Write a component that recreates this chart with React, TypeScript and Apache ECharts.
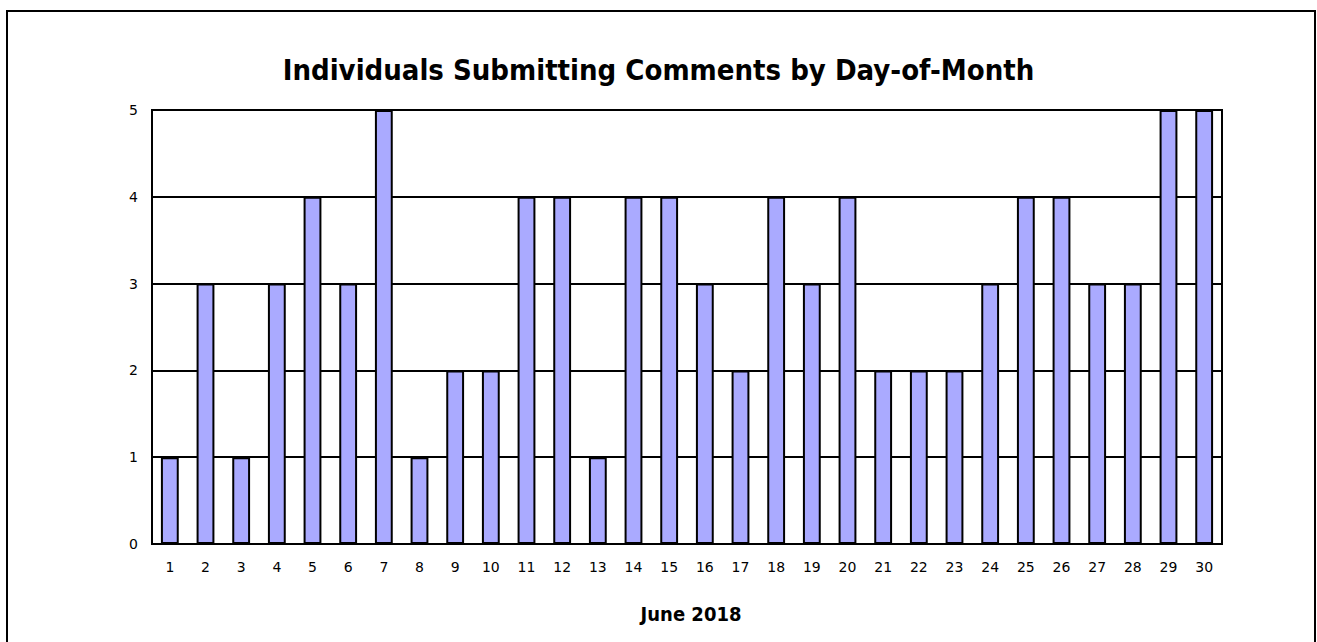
import React, { useEffect, useRef } from "react";
import * as echarts from "echarts";

const days: string[] = Array.from({ length: 30 }, (_, i) => String(i + 1));
const counts: number[] = [1, 3, 1, 3, 4, 3, 5, 1, 2, 2, 4, 4, 1, 4, 4, 3, 2, 4, 3, 4, 2, 2, 2, 3, 4, 4, 3, 3, 5, 5];
const titleText = "Individuals Submitting Comments by Day-of-Month";
const xAxisName = "June 2018";

const FONT = "DejaVu Sans";
const FONT_C = "'DejaVu Sans Condensed', 'DejaVu Sans'";

export default function App() {
  const ref = useRef<HTMLDivElement>(null);
  useEffect(() => {
    document.body.style.margin = "0";
    const chart = echarts.init(ref.current!, null, { renderer: "svg" });
    chart.setOption({
      animation: false,
      backgroundColor: "#ffffff",
      title: {
        text: titleText,
        left: "center",
        top: 50,
        textStyle: { fontFamily: FONT_C, fontSize: 29, fontWeight: "bold", color: "#000" },
      },
      graphic: [
        {
          type: "rect",
          shape: { x: 7, y: 11, width: 1308, height: 700 },
          style: { fill: "none", stroke: "#000", lineWidth: 2 },
          silent: true,
        },
      ],
      grid: {
        left: 152,
        right: 95,
        top: 110,
        bottom: 98,
        show: true,
        borderColor: "#000",
        borderWidth: 2,
        backgroundColor: "transparent",
      },
      xAxis: {
        type: "category",
        data: days,
        name: xAxisName,
        nameLocation: "middle",
        nameGap: 60,
        nameTextStyle: { fontFamily: FONT_C, fontSize: 20, fontWeight: "bold", color: "#000", padding: [0, 0, 0, 8] },
        axisLine: { show: true, lineStyle: { color: "#000", width: 2 } },
        axisTick: { show: false },
        axisLabel: { fontFamily: FONT, fontSize: 14, color: "#000", margin: 16, interval: 0 },
      },
      yAxis: {
        type: "value",
        min: 0,
        max: 5,
        interval: 1,
        axisLine: { show: true, lineStyle: { color: "#000", width: 2 } },
        axisTick: { show: false },
        axisLabel: { fontFamily: FONT, fontSize: 14, color: "#000", margin: 14 },
        splitLine: { show: true, lineStyle: { color: "#000", width: 2 } },
      },
      series: [
        {
          type: "bar",
          data: counts,
          barWidth: "50%",
          itemStyle: { color: "#aaaaff", borderColor: "#000", borderWidth: 2 },
        },
      ],
    });
    return () => chart.dispose();
  }, []);
  return <div ref={ref} style={{ width: 1317, height: 642 }} />;
}
